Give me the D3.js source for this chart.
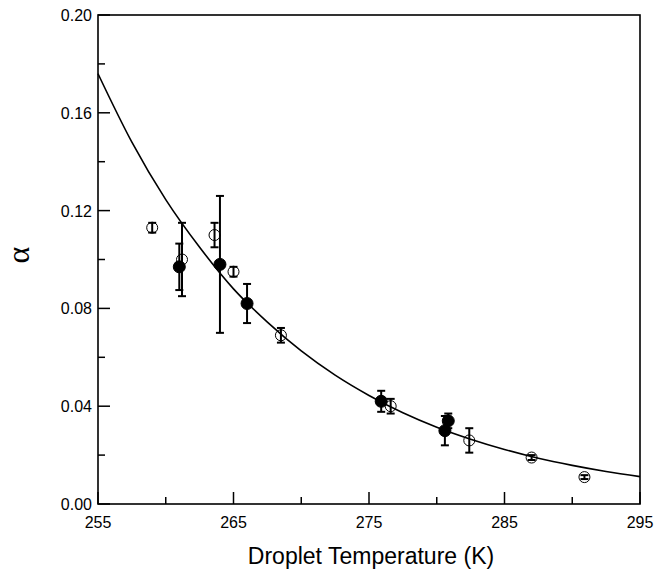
<!DOCTYPE html>
<html>
<head>
<meta charset="utf-8">
<script src="https://cdn.jsdelivr.net/npm/d3@7"></script>
<style>
  body { margin: 0; background: #fff; }
  svg { display: block; }
</style>
</head>
<body>
<svg width="654" height="569"></svg>
<script>
// open circles
let openT   = [259.0, 261.2, 263.6, 265.0, 268.5, 276.6, 282.4, 287.0, 290.9]
let openA   = [0.113, 0.100, 0.110, 0.095, 0.069, 0.040, 0.026, 0.019, 0.011]
let openErr = [0.002, 0.015, 0.005, 0.002, 0.003, 0.003, 0.005, 0.001, 0.0008]

// filled circles
let fillT   = [261.0, 264.0, 266.0, 275.9, 280.6, 280.85]
let fillA   = [0.097, 0.098, 0.082, 0.042, 0.030, 0.034]
let fillErr = [0.0095, 0.028, 0.008, 0.0043, 0.006, 0.003]

// fitted curve
let curveT = [255, 257.5, 260, 262.5, 265, 267.5, 270, 272.5, 275, 277.5, 280, 282.5, 285, 287.5, 290, 292.5, 295]
let curveA = [0.176, 0.148, 0.1245, 0.105, 0.088, 0.0744, 0.0626, 0.0527, 0.0444, 0.0373, 0.0314, 0.0265, 0.0223, 0.0187, 0.0158, 0.0133, 0.0112]

let xMajor = [255, 265, 275, 285, 295]
let xMinor = [260, 270, 280, 290]
let yMajor = [0, 0.04, 0.08, 0.12, 0.16, 0.20]
let yMinor = [0.02, 0.06, 0.10, 0.14, 0.18]

const pLeft = 98, pRight = 640, pTop = 15, pBottom = 504

let x = d3.scaleLinear().domain([255, 295]).range([pLeft, pRight])
let y = d3.scaleLinear().domain([0, 0.2]).range([pBottom, pTop])

let svg = d3.select("svg")

// fitted curve
let curve = curveT.map((t, i) => ({t: t, a: curveA[i]}))
svg.append("path")
   .datum(curve)
   .attr("fill", "none")
   .attr("stroke", "#000")
   .attr("stroke-width", 1.6)
   .attr("d", d3.line().x(d => x(d.t)).y(d => y(d.a)).curve(d3.curveMonotoneX))

let points = openT.map((t, i) => ({t: t, a: openA[i], e: openErr[i], filled: false}))
    .concat(fillT.map((t, i) => ({t: t, a: fillA[i], e: fillErr[i], filled: true})))

// error bars
let eb = svg.append("g").attr("stroke", "#000").attr("stroke-width", 2)
points.forEach(p => {
    let cx = x(p.t)
    eb.append("line").attr("x1", cx).attr("x2", cx).attr("y1", y(p.a - p.e)).attr("y2", y(p.a + p.e))
    eb.append("line").attr("x1", cx - 4).attr("x2", cx + 4).attr("y1", y(p.a - p.e)).attr("y2", y(p.a - p.e))
    eb.append("line").attr("x1", cx - 4).attr("x2", cx + 4).attr("y1", y(p.a + p.e)).attr("y2", y(p.a + p.e))
})

// markers
svg.append("g")
   .selectAll("circle")
   .data(points)
   .join("circle")
   .attr("cx", d => x(d.t))
   .attr("cy", d => y(d.a))
   .attr("r", d => d.filled ? 6 : 5.5)
   .attr("fill", d => d.filled ? "#000" : "none")
   .attr("stroke", "#000")
   .attr("stroke-width", 1)

// frame
svg.append("rect")
   .attr("x", pLeft).attr("y", pTop)
   .attr("width", pRight - pLeft).attr("height", pBottom - pTop)
   .attr("fill", "none").attr("stroke", "#000").attr("stroke-width", 1.6)

// ticks (inward)
let tk = svg.append("g").attr("stroke", "#000").attr("stroke-width", 1.5)
xMajor.forEach(v => tk.append("line").attr("x1", x(v)).attr("x2", x(v)).attr("y1", pBottom).attr("y2", pBottom - 12))
xMinor.forEach(v => tk.append("line").attr("x1", x(v)).attr("x2", x(v)).attr("y1", pBottom).attr("y2", pBottom - 7))
yMajor.forEach(v => tk.append("line").attr("x1", pLeft).attr("x2", pLeft + 12).attr("y1", y(v)).attr("y2", y(v)))
yMinor.forEach(v => tk.append("line").attr("x1", pLeft).attr("x2", pLeft + 7).attr("y1", y(v)).attr("y2", y(v)))

// tick labels
let font = "'Liberation Sans', Arial, sans-serif"
svg.append("g").selectAll("text")
   .data(xMajor).join("text")
   .attr("x", d => x(d)).attr("y", pBottom + 24)
   .attr("text-anchor", "middle")
   .attr("font-family", font).attr("font-size", 16)
   .text(d => d)

svg.append("g").selectAll("text")
   .data(yMajor).join("text")
   .attr("x", pLeft - 6).attr("y", d => y(d) + 6)
   .attr("text-anchor", "end")
   .attr("font-family", font).attr("font-size", 16)
   .text(d => d.toFixed(2))

// axis titles
svg.append("text")
   .attr("x", 371).attr("y", 564)
   .attr("text-anchor", "middle")
   .attr("font-family", font).attr("font-size", 23)
   .text("Droplet Temperature (K)")

svg.append("text")
   .attr("transform", "translate(29,255) rotate(-90)")
   .attr("text-anchor", "middle")
   .attr("font-family", "'Liberation Serif', 'Times New Roman', serif").attr("font-size", 32)
   .text("α")
</script>
</body>
</html>
